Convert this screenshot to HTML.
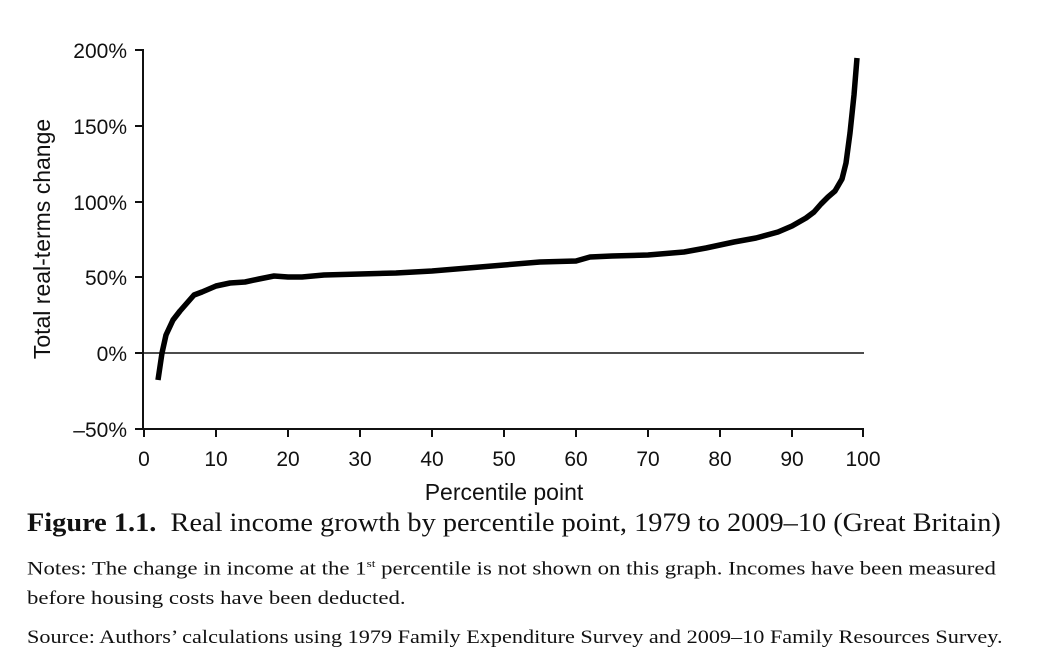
<!DOCTYPE html>
<html><head><meta charset="utf-8"><style>
html,body{margin:0;padding:0;background:#fff;}
body{width:1038px;height:672px;overflow:hidden;position:relative;}
.t{position:absolute;font-family:"Liberation Serif",serif;color:#111;white-space:nowrap;transform-origin:0 0;}
</style></head><body>
<svg width="1038" height="510" style="position:absolute;left:0;top:0" font-family="Liberation Sans, sans-serif" font-size="21" fill="#111">
<g stroke="#111" stroke-width="2">
<line x1="143" y1="49" x2="143" y2="430"/>
<line x1="143" y1="429" x2="864" y2="429"/>
<line x1="135" y1="50" x2="143" y2="50"/>
<line x1="135" y1="126" x2="143" y2="126"/>
<line x1="135" y1="202" x2="143" y2="202"/>
<line x1="135" y1="277" x2="143" y2="277"/>
<line x1="135" y1="353" x2="143" y2="353"/>
<line x1="135" y1="429" x2="143" y2="429"/>
</g>
<line x1="143" y1="353" x2="864" y2="353" stroke="#111" stroke-width="1.5"/>
<g stroke="#111" stroke-width="2">
<line x1="144" y1="429" x2="144" y2="437"/><line x1="216" y1="429" x2="216" y2="437"/><line x1="288" y1="429" x2="288" y2="437"/><line x1="360" y1="429" x2="360" y2="437"/><line x1="432" y1="429" x2="432" y2="437"/><line x1="504" y1="429" x2="504" y2="437"/><line x1="576" y1="429" x2="576" y2="437"/><line x1="648" y1="429" x2="648" y2="437"/><line x1="720" y1="429" x2="720" y2="437"/><line x1="792" y1="429" x2="792" y2="437"/><line x1="863" y1="429" x2="863" y2="437"/>
</g>
<g text-anchor="end">
<text x="127" y="58">200%</text><text x="127" y="134">150%</text><text x="127" y="210">100%</text><text x="127" y="285">50%</text><text x="127" y="361">0%</text><text x="127" y="437">–50%</text>
</g>
<g text-anchor="middle">
<text x="144" y="466">0</text><text x="216" y="466">10</text><text x="288" y="466">20</text><text x="360" y="466">30</text><text x="432" y="466">40</text><text x="504" y="466">50</text><text x="576" y="466">60</text><text x="648" y="466">70</text><text x="720" y="466">80</text><text x="792" y="466">90</text><text x="863" y="466">100</text>
<text x="504" y="500" font-size="23">Percentile point</text>
</g>
<text transform="translate(50,239) rotate(-90)" text-anchor="middle" font-size="23">Total real-terms change</text>
<polyline fill="none" stroke="#000" stroke-width="5.5" stroke-linejoin="round" points="
158,380 162,353 166,335 173,320 180,311 187,303 194,295 202,292 216,286 230,283 245,282 259,279 274,276 288,277 302,277 324,275 360,274 396,273 432,271 468,268 504,265 540,262 576,261 590,257 612,256 648,255 684,252 706,248 734,242 756,238 778,232 792,226 806,218 814,212 821,204 828,197 835,191 842,179 846,163 850,133 854,95 857,58"/>
</svg>
<div class="t" style="left:27px;top:508px;font-size:26px;transform:scaleX(1.09);"><b>Figure 1.1.</b>&nbsp; Real income growth by percentile point, 1979 to 2009–10 (Great Britain)</div>
<div class="t" style="left:27px;top:558px;font-size:19px;transform:scaleX(1.2);">Notes: The change in income at the 1<sup style="font-size:11px">st</sup> percentile is not shown on this graph. Incomes have been measured</div>
<div class="t" style="left:27px;top:588px;font-size:19px;transform:scaleX(1.2);">before housing costs have been deducted.</div>
<div class="t" style="left:27px;top:627px;font-size:19px;transform:scaleX(1.17);">Source: Authors’ calculations using 1979 Family Expenditure Survey and 2009–10 Family Resources Survey.</div>
</body></html>
